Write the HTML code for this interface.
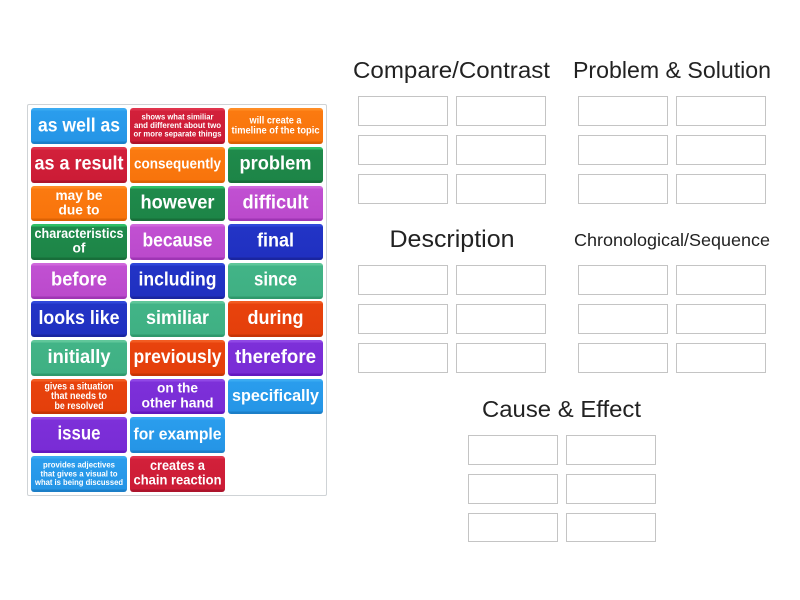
<!DOCTYPE html>
<html><head><meta charset="utf-8">
<style>
html,body{margin:0;padding:0;background:#fff;width:800px;height:600px;overflow:hidden}
#w{position:relative;width:800px;height:600px}
.c{position:absolute;left:27px;top:104px;width:298px;height:390px;border:1px solid #cfd3d6;border-radius:2px}
.t{position:absolute;border-radius:3px}
.s{position:absolute;width:88px;height:28px;border:1px solid #c4c4c4}
.b{background:linear-gradient(#3aabf2 0,#3aabf2 2px,#2a9ded 3px,#2595e6 calc(100% - 3px),#1c7fc8 calc(100% - 2px))}
.r{background:linear-gradient(#e0344d 0,#e0344d 2px,#d2203a 3px,#cc1c36 calc(100% - 3px),#ad142c calc(100% - 2px))}
.o{background:linear-gradient(#ff8d25 0,#ff8d25 2px,#fb7a10 3px,#f8740c calc(100% - 3px),#dc6204 calc(100% - 2px))}
.g{background:linear-gradient(#2fc066 0,#2fc066 2px,#1f8a4b 3px,#1d8547 calc(100% - 3px),#186e3a calc(100% - 2px))}
.p{background:linear-gradient(#d068dc 0,#d068dc 2px,#c150d2 3px,#bb4acc calc(100% - 3px),#9f35b4 calc(100% - 2px))}
.n{background:linear-gradient(#3048da 0,#3048da 2px,#2234c6 3px,#2030c0 calc(100% - 3px),#1a25a0 calc(100% - 2px))}
.a{background:linear-gradient(#60c79a 0,#60c79a 2px,#42b487 3px,#3fb083 calc(100% - 3px),#2f996c calc(100% - 2px))}
.e{background:linear-gradient(#f25c22 0,#f25c22 2px,#e8430d 3px,#e43f0b calc(100% - 3px),#c63405 calc(100% - 2px))}
.v{background:linear-gradient(#9048e6 0,#9048e6 2px,#7d30d9 3px,#792cd5 calc(100% - 3px),#6418c0 calc(100% - 2px))}
svg{position:absolute;left:0;top:0}
text{font-family:"Liberation Sans",sans-serif}
.w text{font-weight:bold;fill:#fff;text-anchor:middle}
.h text{fill:#222;text-anchor:middle}
</style></head><body><div id="w">
<div class="c"></div>

<div class="t b" style="left:31px;top:108px;width:96px;height:36px"></div>
<div class="t r" style="left:130px;top:108px;width:95px;height:36px"></div>
<div class="t o" style="left:228px;top:108px;width:95px;height:36px"></div>
<div class="t r" style="left:31px;top:147px;width:96px;height:36px"></div>
<div class="t o" style="left:130px;top:147px;width:95px;height:36px"></div>
<div class="t g" style="left:228px;top:147px;width:95px;height:36px"></div>
<div class="t o" style="left:31px;top:186px;width:96px;height:35px"></div>
<div class="t g" style="left:130px;top:186px;width:95px;height:35px"></div>
<div class="t p" style="left:228px;top:186px;width:95px;height:35px"></div>
<div class="t g" style="left:31px;top:224px;width:96px;height:36px"></div>
<div class="t p" style="left:130px;top:224px;width:95px;height:36px"></div>
<div class="t n" style="left:228px;top:224px;width:95px;height:36px"></div>
<div class="t p" style="left:31px;top:263px;width:96px;height:36px"></div>
<div class="t n" style="left:130px;top:263px;width:95px;height:36px"></div>
<div class="t a" style="left:228px;top:263px;width:95px;height:36px"></div>
<div class="t n" style="left:31px;top:301px;width:96px;height:36px"></div>
<div class="t a" style="left:130px;top:301px;width:95px;height:36px"></div>
<div class="t e" style="left:228px;top:301px;width:95px;height:36px"></div>
<div class="t a" style="left:31px;top:340px;width:96px;height:36px"></div>
<div class="t e" style="left:130px;top:340px;width:95px;height:36px"></div>
<div class="t v" style="left:228px;top:340px;width:95px;height:36px"></div>
<div class="t e" style="left:31px;top:379px;width:96px;height:35px"></div>
<div class="t v" style="left:130px;top:379px;width:95px;height:35px"></div>
<div class="t b" style="left:228px;top:379px;width:95px;height:35px"></div>
<div class="t v" style="left:31px;top:417px;width:96px;height:36px"></div>
<div class="t b" style="left:130px;top:417px;width:95px;height:36px"></div>
<div class="t b" style="left:31px;top:456px;width:96px;height:36px"></div>
<div class="t r" style="left:130px;top:456px;width:95px;height:36px"></div>

<div class="s" style="left:358px;top:96px"></div><div class="s" style="left:456px;top:96px"></div>
<div class="s" style="left:358px;top:135px"></div><div class="s" style="left:456px;top:135px"></div>
<div class="s" style="left:358px;top:174px"></div><div class="s" style="left:456px;top:174px"></div>
<div class="s" style="left:578px;top:96px"></div><div class="s" style="left:676px;top:96px"></div>
<div class="s" style="left:578px;top:135px"></div><div class="s" style="left:676px;top:135px"></div>
<div class="s" style="left:578px;top:174px"></div><div class="s" style="left:676px;top:174px"></div>
<div class="s" style="left:358px;top:265px"></div><div class="s" style="left:456px;top:265px"></div>
<div class="s" style="left:358px;top:304px"></div><div class="s" style="left:456px;top:304px"></div>
<div class="s" style="left:358px;top:343px"></div><div class="s" style="left:456px;top:343px"></div>
<div class="s" style="left:578px;top:265px"></div><div class="s" style="left:676px;top:265px"></div>
<div class="s" style="left:578px;top:304px"></div><div class="s" style="left:676px;top:304px"></div>
<div class="s" style="left:578px;top:343px"></div><div class="s" style="left:676px;top:343px"></div>
<div class="s" style="left:468px;top:435px"></div><div class="s" style="left:566px;top:435px"></div>
<div class="s" style="left:468px;top:474px"></div><div class="s" style="left:566px;top:474px"></div>
<div class="s" style="left:468px;top:513px;height:27px"></div><div class="s" style="left:566px;top:513px;height:27px"></div>

<svg width="800" height="600" viewBox="0 0 800 600">
<g class="h">
<text x="451.5" y="78" font-size="23" textLength="197" lengthAdjust="spacingAndGlyphs">Compare/Contrast</text>
<text x="672" y="78" font-size="23" textLength="198" lengthAdjust="spacingAndGlyphs">Problem &amp; Solution</text>
<text x="452" y="247" font-size="24" textLength="125" lengthAdjust="spacingAndGlyphs">Description</text>
<text x="672" y="246" font-size="17.5" textLength="196" lengthAdjust="spacingAndGlyphs">Chronological/Sequence</text>
<text x="561.5" y="417" font-size="23" textLength="159" lengthAdjust="spacingAndGlyphs">Cause &amp; Effect</text>
</g>
<g class="w">
<text x="79" y="131.5" font-size="19" textLength="82" lengthAdjust="spacingAndGlyphs">as well as</text>
<text x="177.5" y="119.5" font-size="8.5" textLength="72" lengthAdjust="spacingAndGlyphs">shows what similiar</text>
<text x="177.5" y="128" font-size="8.5" textLength="87" lengthAdjust="spacingAndGlyphs">and different about two</text>
<text x="177.5" y="136.5" font-size="8.5" textLength="88" lengthAdjust="spacingAndGlyphs">or more separate things</text>
<text x="275.5" y="123.7" font-size="10.5" textLength="52" lengthAdjust="spacingAndGlyphs">will create a</text>
<text x="275.5" y="133.7" font-size="10.5" textLength="88" lengthAdjust="spacingAndGlyphs">timeline of the topic</text>

<text x="79" y="169.5" font-size="19" textLength="89" lengthAdjust="spacingAndGlyphs">as a result</text>
<text x="177.5" y="168.5" font-size="15" textLength="87" lengthAdjust="spacingAndGlyphs">consequently</text>
<text x="275.5" y="169.5" font-size="19" textLength="72" lengthAdjust="spacingAndGlyphs">problem</text>

<text x="79" y="200" font-size="13.5" textLength="47" lengthAdjust="spacingAndGlyphs">may be</text>
<text x="79" y="214.3" font-size="13.5" textLength="41" lengthAdjust="spacingAndGlyphs">due to</text>
<text x="177.5" y="208.3" font-size="19" textLength="74" lengthAdjust="spacingAndGlyphs">however</text>
<text x="275.5" y="208.3" font-size="19" textLength="66" lengthAdjust="spacingAndGlyphs">difficult</text>

<text x="79" y="238" font-size="13.5" textLength="89" lengthAdjust="spacingAndGlyphs">characteristics</text>
<text x="79" y="252.3" font-size="13.5" textLength="13" lengthAdjust="spacingAndGlyphs">of</text>
<text x="177.5" y="246.7" font-size="19" textLength="70" lengthAdjust="spacingAndGlyphs">because</text>
<text x="275.5" y="246.7" font-size="19" textLength="37" lengthAdjust="spacingAndGlyphs">final</text>

<text x="79" y="285.7" font-size="19" textLength="56" lengthAdjust="spacingAndGlyphs">before</text>
<text x="177.5" y="285.7" font-size="19" textLength="78" lengthAdjust="spacingAndGlyphs">including</text>
<text x="275.5" y="285.7" font-size="19" textLength="43" lengthAdjust="spacingAndGlyphs">since</text>

<text x="79" y="324" font-size="19" textLength="81" lengthAdjust="spacingAndGlyphs">looks like</text>
<text x="177.5" y="324" font-size="19" textLength="63" lengthAdjust="spacingAndGlyphs">similiar</text>
<text x="275.5" y="324" font-size="19" textLength="56" lengthAdjust="spacingAndGlyphs">during</text>

<text x="79" y="363" font-size="19" textLength="63" lengthAdjust="spacingAndGlyphs">initially</text>
<text x="177.5" y="363" font-size="19" textLength="88" lengthAdjust="spacingAndGlyphs">previously</text>
<text x="275.5" y="363" font-size="19" textLength="81" lengthAdjust="spacingAndGlyphs">therefore</text>

<text x="79" y="389.5" font-size="10" textLength="69" lengthAdjust="spacingAndGlyphs">gives a situation</text>
<text x="79" y="399" font-size="10" textLength="56" lengthAdjust="spacingAndGlyphs">that needs to</text>
<text x="79" y="409" font-size="10" textLength="49" lengthAdjust="spacingAndGlyphs">be resolved</text>
<text x="177.5" y="392.7" font-size="13.5" textLength="41" lengthAdjust="spacingAndGlyphs">on the</text>
<text x="177.5" y="407.3" font-size="13.5" textLength="72" lengthAdjust="spacingAndGlyphs">other hand</text>
<text x="275.5" y="401" font-size="17" textLength="87" lengthAdjust="spacingAndGlyphs">specifically</text>

<text x="79" y="439.5" font-size="19" textLength="43" lengthAdjust="spacingAndGlyphs">issue</text>
<text x="177.5" y="439.5" font-size="17" textLength="88" lengthAdjust="spacingAndGlyphs">for example</text>

<text x="79" y="467.7" font-size="8.5" textLength="72" lengthAdjust="spacingAndGlyphs">provides adjectives</text>
<text x="79" y="476.3" font-size="8.5" textLength="77" lengthAdjust="spacingAndGlyphs">that gives a visual to</text>
<text x="79" y="485" font-size="8.5" textLength="88" lengthAdjust="spacingAndGlyphs">what is being discussed</text>
<text x="177.5" y="470" font-size="13.5" textLength="55" lengthAdjust="spacingAndGlyphs">creates a</text>
<text x="177.5" y="484.7" font-size="13.5" textLength="88" lengthAdjust="spacingAndGlyphs">chain reaction</text>
</g>
</svg>
</div></body></html>
